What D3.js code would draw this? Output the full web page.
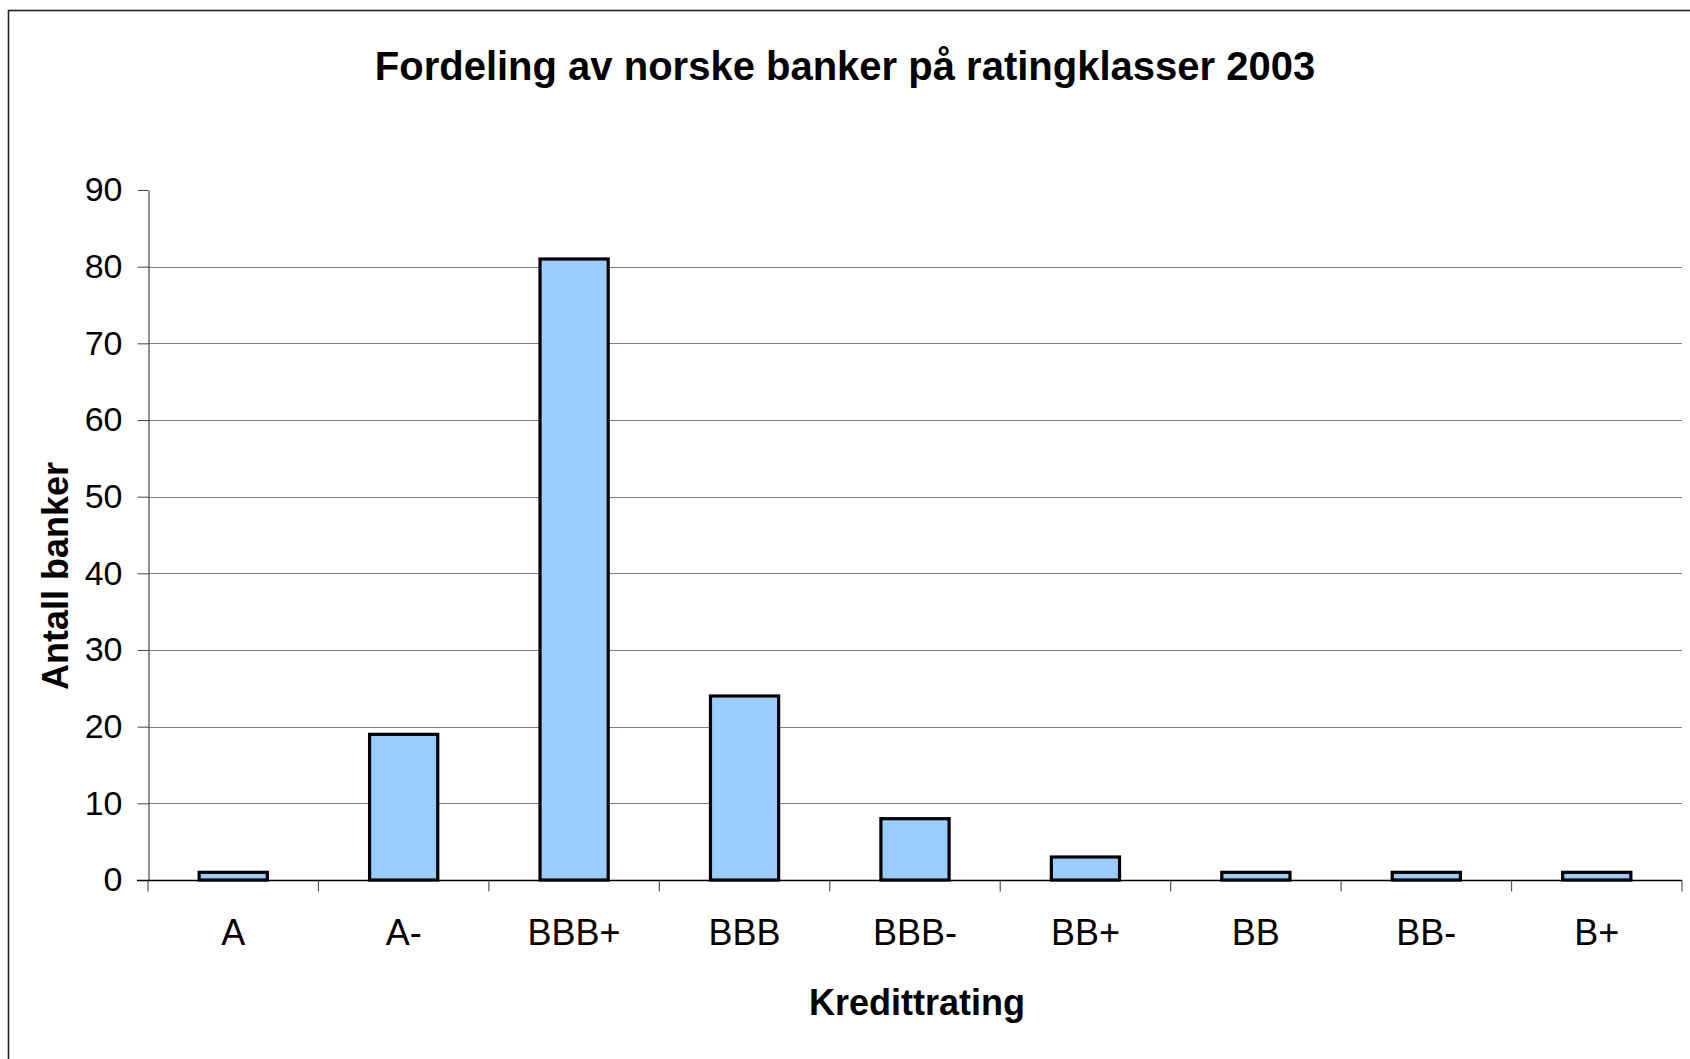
<!DOCTYPE html>
<html>
<head>
<meta charset="utf-8">
<script src="https://cdn.jsdelivr.net/npm/d3@7/dist/d3.min.js"></script>
<style>
  body { margin: 0; background: #fff; }
  svg { display: block; font-family: "Liberation Sans", Arial, sans-serif; }
</style>
</head>
<body>
<div id="chart"></div>
<script>
// data
const ratings = ["A", "A-", "BBB+", "BBB", "BBB-", "BB+", "BB", "BB-", "B+"];
const banks = [1, 19, 81, 24, 8, 3, 1, 1, 1];
const yTicks = [0, 10, 20, 30, 40, 50, 60, 70, 80, 90];

const W = 1690, H = 1059;
const plotLeft = 148, plotRight = 1682, plotTop = 190, plotBottom = 880;

const svg = d3.select("#chart").append("svg")
    .attr("width", W)
    .attr("height", H);

// chart frame
svg.append("rect")
    .attr("x", 8.5).attr("y", 10.5)
    .attr("width", W + 20).attr("height", H + 20)
    .attr("fill", "none")
    .attr("stroke", "#222")
    .attr("stroke-width", 1.6);

const x = d3.scaleBand()
    .domain(ratings)
    .range([plotLeft, plotRight])
    .paddingInner(0.6)
    .paddingOuter(0.3);

const xCat = d3.scaleBand()
    .domain(ratings)
    .range([plotLeft, plotRight]);

const y = d3.scaleLinear()
    .domain([0, 90])
    .range([plotBottom, plotTop]);

// gridlines
svg.append("g")
    .selectAll("line")
    .data(yTicks.filter(d => d > 0 && d < 90))
    .join("line")
    .attr("x1", plotLeft).attr("x2", plotRight)
    .attr("y1", d => Math.round(y(d)) + 0.5)
    .attr("y2", d => Math.round(y(d)) + 0.5)
    .attr("stroke", "#7f7f7f")
    .attr("stroke-width", 1);

// y axis
const yAxis = svg.append("g")
    .attr("transform", `translate(${plotLeft + 0.5},0)`)
    .call(d3.axisLeft(y).tickValues(yTicks).tickSize(11).tickSizeOuter(0).tickPadding(15));
yAxis.select(".domain").attr("stroke", "#444").attr("stroke-width", 1.2);
yAxis.selectAll(".tick line").attr("stroke", "#444");
yAxis.selectAll(".tick text")
    .attr("font-size", 34)
    .attr("fill", "#000")
    .attr("font-family", "Liberation Sans, Arial, sans-serif");

// bars
svg.append("g")
    .selectAll("rect")
    .data(banks)
    .join("rect")
    .attr("x", (d, i) => x(ratings[i]))
    .attr("y", d => y(d))
    .attr("width", x.bandwidth())
    .attr("height", d => y(0) - y(d))
    .attr("fill", "#99ccff")
    .attr("stroke", "#000")
    .attr("stroke-width", 3.2);

// x axis
const xAxisG = svg.append("g").attr("transform", `translate(0,${plotBottom + 0.5})`);
xAxisG.append("line")
    .attr("x1", plotLeft - 11).attr("x2", plotRight)
    .attr("stroke", "#000").attr("stroke-width", 1.4);
xAxisG.selectAll("line.tk")
    .data(ratings.concat(["end"]))
    .join("line")
    .attr("class", "tk")
    .attr("x1", (d, i) => i < ratings.length ? xCat(d) : plotRight)
    .attr("x2", (d, i) => i < ratings.length ? xCat(d) : plotRight)
    .attr("y1", 0).attr("y2", 11)
    .attr("stroke", "#555").attr("stroke-width", 1.2);
xAxisG.selectAll("text")
    .data(ratings)
    .join("text")
    .attr("x", d => xCat(d) + xCat.bandwidth() / 2)
    .attr("y", 64)
    .attr("text-anchor", "middle")
    .attr("font-size", 36)
    .text(d => d);

// titles
svg.append("text")
    .attr("x", 845).attr("y", 80)
    .attr("text-anchor", "middle")
    .attr("font-size", 40)
    .attr("font-weight", "bold")
    .text("Fordeling av norske banker på ratingklasser 2003");

svg.append("text")
    .attr("x", 917).attr("y", 1015)
    .attr("text-anchor", "middle")
    .attr("font-size", 36)
    .attr("font-weight", "bold")
    .text("Kredittrating");

svg.append("text")
    .attr("transform", "translate(68,576) rotate(-90)")
    .attr("text-anchor", "middle")
    .attr("font-size", 36)
    .attr("font-weight", "bold")
    .text("Antall banker");
</script>
</body>
</html>
